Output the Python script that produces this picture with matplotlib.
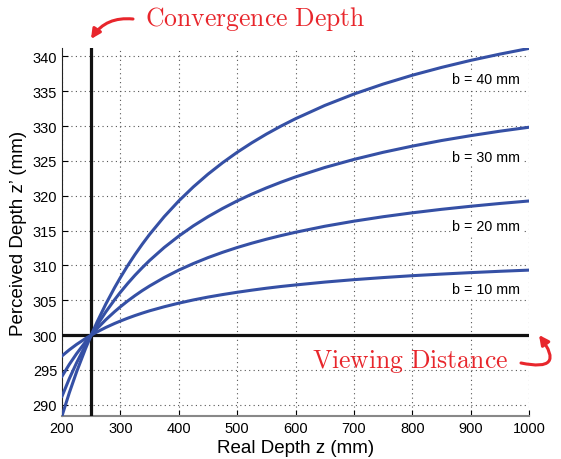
import matplotlib
matplotlib.use("Agg")
import matplotlib.pyplot as plt

plt.rcParams['font.family'] = ['Liberation Sans', 'DejaVu Sans']
plt.rcParams['mathtext.fontset'] = 'cm'

# valeurs
z = [200, 212.5, 225, 240, 250, 260, 275, 290, 300, 312.5, 325, 337.5, 350, 375, 400, 425,
     450, 475, 500, 525, 550, 575, 600, 650, 700, 750, 800, 850, 900, 950, 1000]
zp_b10 = [297.02, 297.89, 298.67, 299.50, 300.0, 300.46, 301.10, 301.67, 302.02, 302.43,
          302.81, 303.16, 303.49, 304.07, 304.59, 305.05, 305.46, 305.82, 306.15, 306.45,
          306.73, 306.98, 307.20, 307.61, 307.96, 308.26, 308.53, 308.76, 308.97, 309.16,
          309.33]
zp_b20 = [294.09, 295.80, 297.34, 299.00, 300.0, 300.93, 302.21, 303.36, 304.07, 304.90,
          305.67, 306.39, 307.05, 308.26, 309.33, 310.27, 311.12, 311.88, 312.57, 313.19,
          313.76, 314.28, 314.76, 315.62, 316.35, 316.99, 317.55, 318.05, 318.49, 318.89,
          319.25]
zp_b30 = [291.22, 293.75, 296.03, 298.50, 300.0, 301.40, 303.33, 305.07, 306.15, 307.41,
          308.59, 309.68, 310.71, 312.57, 314.21, 315.68, 316.99, 318.17, 319.25, 320.23,
          321.12, 321.94, 322.70, 324.05, 325.21, 326.23, 327.12, 327.92, 328.62, 329.26,
          329.83]
zp_b40 = [288.41, 291.72, 294.73, 298.00, 300.0, 301.87, 304.45, 306.80, 308.26, 309.97,
          311.56, 313.05, 314.45, 316.99, 319.25, 321.27, 323.09, 324.73, 326.23, 327.59,
          328.84, 329.99, 331.05, 332.95, 334.59, 336.02, 337.29, 338.41, 339.42, 340.32,
          341.14]
curves = [zp_b10, zp_b20, zp_b30, zp_b40]
labels = ['b = 10 mm', 'b = 20 mm', 'b = 30 mm', 'b = 40 mm']
label_y = [306.6, 315.6, 325.6, 336.7]

conv_depth = 250
view_dist = 300

fig = plt.figure(figsize=(5.61, 4.60), dpi=100)
ax = fig.add_axes([0.1105, 0.0935, 0.8325, 0.8])

ax.set_xlim(200, 1000)
ax.set_ylim(288.4, 341.2)
ax.set_xticks(range(200, 1001, 100))
ax.set_yticks(range(290, 341, 5))
ax.grid(True, linestyle=(0, (1, 3)), color='#555555', linewidth=0.8)
ax.tick_params(direction='in', labelsize=10.5, length=4)
for s in ['top', 'right']:
    ax.spines[s].set_visible(False)
ax.spines['left'].set_color('#222222')
ax.spines['bottom'].set_color('#888888')
ax.spines['bottom'].set_linewidth(1.5)

ax.axvline(conv_depth, color='#111111', lw=2.3, zorder=3)
ax.axhline(view_dist, color='#111111', lw=2.3, zorder=3)

for c in curves:
    ax.plot(z, c, color='#3550a5', lw=2.2, zorder=4, solid_joinstyle='round')

for lab, yy in zip(labels, label_y):
    ax.text(985, yy, lab, ha='right', va='center', fontsize=10.3,
            bbox=dict(facecolor='white', edgecolor='none', pad=1))

ax.set_xlabel('Real Depth z (mm)', fontsize=13.5, labelpad=3)
ax.set_ylabel('Perceived Depth z\u2019 (mm)', fontsize=13.5, labelpad=4)

red = '#e8262c'
fig.text(145 / 561, 1 - 19 / 460, r'$\mathrm{Convergence\ Depth}$', color=red,
         fontsize=18.5, ha='left', va='center')
fig.text(312 / 561, 1 - 362 / 460, r'$\mathrm{Viewing\ Distance}$', color=red,
         fontsize=18.5, ha='left', va='center')

ax.annotate('', xy=(91 / 561, 1 - 40 / 460), xycoords='figure fraction',
            xytext=(133 / 561, 1 - 20 / 460), textcoords='figure fraction',
            arrowprops=dict(arrowstyle='-|>', color=red, lw=2.2, shrinkA=0, shrinkB=0,
                            connectionstyle='arc3,rad=0.3', mutation_scale=14))
ax.annotate('', xy=(539 / 561, 1 - 336 / 460), xycoords='figure fraction',
            xytext=(521 / 561, 1 - 364 / 460), textcoords='figure fraction',
            arrowprops=dict(arrowstyle='-|>', color=red, lw=2.2, shrinkA=0, shrinkB=0,
                            connectionstyle='arc3,rad=1.3', mutation_scale=14),
            annotation_clip=False)

fig.savefig('out.png', dpi=100)
